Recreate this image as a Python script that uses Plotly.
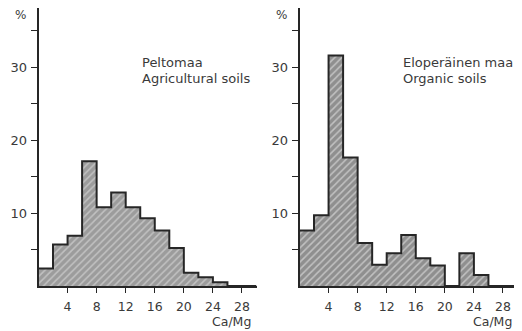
import plotly.graph_objects as go

# Data
bin_edges = [0, 2, 4, 6, 8, 10, 12, 14, 16, 18, 20, 22, 24, 26, 28, 30]
agri_pct = [2.4, 5.7, 6.9, 17.1, 10.8, 12.8, 10.8, 9.3, 7.6, 5.2, 1.8, 1.2, 0.5, 0, 0]
organic_pct = [7.6, 9.7, 31.6, 17.6, 5.9, 2.9, 4.5, 7.0, 3.8, 2.8, 0, 4.5, 1.5, 0, 0]
x_ticks = [4, 8, 12, 16, 20, 24, 28]
y_ticks = [5, 10, 15, 20, 25, 30, 35]
y_ticktext = ["", "10", "", "20", "", "30", ""]
labels_left = ["Peltomaa", "Agricultural soils"]
labels_right = ["Eloperäinen maa", "Organic soils"]
x_title = "Ca/Mg"
y_title = "%"

# page body has an 8px default margin; work in screen pixels and offset
OFF = 8
SW, SH = 522, 331
W, H = SW - OFF, SH - OFF
FONT = "DejaVu Sans"
TXT = "#3a3a3a"
AX = "#262626"

def fx(px):
    return (px - OFF) / W

def fy(py):
    return min(1.0, max(0.0, 1 - (py - OFF) / H))

centers = [(a + b) / 2 for a, b in zip(bin_edges[:-1], bin_edges[1:])]
widths = [b - a for a, b in zip(bin_edges[:-1], bin_edges[1:])]

fig = go.Figure()

def add_panel(vals, xa, ya, bg):
    fig.add_trace(go.Bar(
        x=centers, y=vals, width=widths, xaxis=xa, yaxis=ya,
        marker=dict(color=bg, line=dict(width=0),
                    pattern=dict(shape="/", fgcolor="#c2c2c2", bgcolor=bg,
                                 size=5, solidity=0.3, fillmode="replace")),
        showlegend=False, hoverinfo="skip"))
    fig.add_trace(go.Scatter(
        x=bin_edges, y=list(vals) + [vals[-1]], xaxis=xa, yaxis=ya,
        mode="lines", line=dict(shape="hv", color=AX, width=2),
        showlegend=False, hoverinfo="skip"))

add_panel(agri_pct, "x", "y", "#9c9c9c")
add_panel(organic_pct, "x2", "y2", "#8f8f8f")

ydom = [fy(286), 1.0]
xdom1 = [fx(38.5), fx(256.5)]
xdom2 = [fx(299.5), fx(517.5)]

xcommon = dict(range=[0, 30], showline=True, linecolor=AX, linewidth=1.5,
               showgrid=False, zeroline=False, tickmode="array", tickvals=x_ticks,
               ticks="outside", ticklen=5, tickcolor=AX, tickwidth=1,
               ticklabelstandoff=3, automargin=False,
               tickfont=dict(family=FONT, size=12.5, color=TXT), fixedrange=True)
ycommon = dict(range=[0, 38.1], showline=True, linecolor=AX, linewidth=1.5,
               showgrid=False, zeroline=False, tickmode="array", tickvals=y_ticks,
               ticktext=y_ticktext, ticks="outside", ticklen=6, tickcolor=AX,
               tickwidth=1, ticklabelstandoff=1, automargin=False,
               tickfont=dict(family=FONT, size=13, color=TXT), fixedrange=True)

fig.update_layout(
    template="none",
    width=W, height=H, margin=dict(l=0, r=0, t=0, b=0, pad=0),
    paper_bgcolor="white", plot_bgcolor="white", bargap=0,
    xaxis=dict(domain=xdom1, anchor="y", **xcommon),
    yaxis=dict(domain=ydom, anchor="x", **ycommon),
    xaxis2=dict(domain=xdom2, anchor="y2", **xcommon),
    yaxis2=dict(domain=ydom, anchor="x2", **ycommon),
)

def ann(px, py, text, xanchor="left", size=13):
    fig.add_annotation(x=fx(px), y=fy(py), xref="paper", yref="paper",
                       text=text, showarrow=False, xanchor=xanchor, yanchor="middle",
                       font=dict(family=FONT, size=size, color=TXT))

ann(140, 63, labels_left[0])
ann(140, 78, labels_left[1])
ann(401, 63, labels_right[0])
ann(401, 78, labels_right[1])
ann(253, 321.5, x_title, xanchor="right", size=12.5)
ann(514, 321.5, x_title, xanchor="right", size=12.5)
ann(13, 15, y_title, size=12)
ann(274, 15, y_title, size=12)

fig.write_html("out.html")
